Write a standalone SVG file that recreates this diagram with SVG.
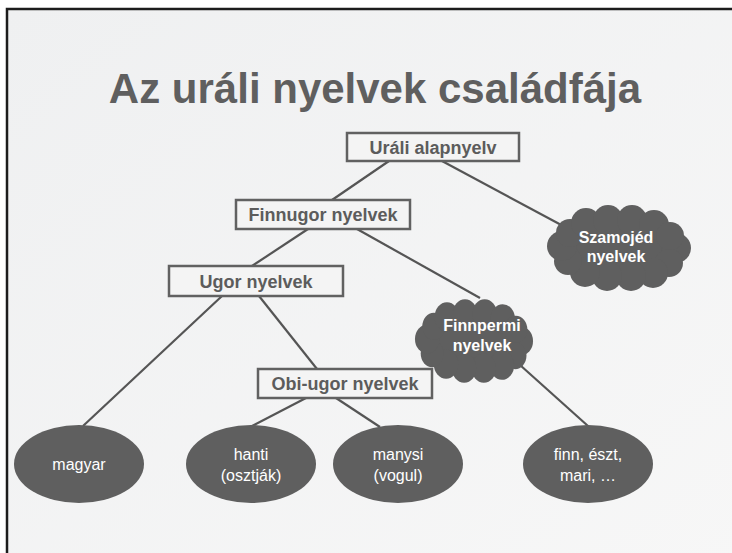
<svg xmlns="http://www.w3.org/2000/svg" xmlns:xlink="http://www.w3.org/1999/xlink" width="732" height="553" viewBox="0 0 732 553">
<style>
.box{fill:#f4f4f4;stroke:#616161;stroke-width:2.5}
.boxt{font-family:"Liberation Sans",Arial,sans-serif;font-weight:bold;font-size:18px;fill:#5c5c5c;text-anchor:middle}
.ell{fill:#5f5f5f}
.ellt{font-family:"Liberation Sans",Arial,sans-serif;font-size:16px;fill:#ffffff;text-anchor:middle}
.cldt{font-family:"Liberation Sans",Arial,sans-serif;font-weight:bold;font-size:16px;fill:#ffffff;text-anchor:middle}
.conn line{stroke:#555555;stroke-width:2.2}
</style>
<defs>
<linearGradient id="bg" x1="0" y1="0" x2="1" y2="1">
<stop offset="0" stop-color="#eff0f1"/>
<stop offset="1" stop-color="#f7f7f7"/>
</linearGradient>
<g id="cloud" fill="#5f5f5f">
<ellipse cx="0" cy="0" rx="58" ry="31"/>
<circle cx="57" cy="0" r="15"/>
<circle cx="50" cy="15" r="14"/>
<circle cx="34" cy="25" r="15"/>
<circle cx="12" cy="28" r="15"/>
<circle cx="-12" cy="28" r="15"/>
<circle cx="-34" cy="24" r="15"/>
<circle cx="-51" cy="13" r="14"/>
<circle cx="-57" cy="-2" r="15"/>
<circle cx="-49" cy="-15" r="14"/>
<circle cx="-33" cy="-25" r="15"/>
<circle cx="-11" cy="-28" r="15"/>
<circle cx="13" cy="-28" r="15"/>
<circle cx="35" cy="-23" r="15"/>
<circle cx="51" cy="-12" r="14"/>
</g>
</defs>
<rect x="0" y="0" width="732" height="553" fill="#ffffff"/>
<rect x="7" y="9" width="740" height="560" fill="url(#bg)" stroke="#1c1c1c" stroke-width="2.5"/>
<text x="375" y="103" font-family="'Liberation Sans',Arial,sans-serif" font-weight="bold" font-size="42" fill="#5f5f5f" text-anchor="middle">Az uráli nyelvek családfája</text>
<g class="conn">
<line x1="389" y1="161" x2="332" y2="200"/>
<line x1="442" y1="161" x2="565" y2="227"/>
<line x1="308" y1="229" x2="252" y2="266"/>
<line x1="357" y1="229" x2="480" y2="298"/>
<line x1="222" y1="296" x2="83" y2="426"/>
<line x1="259" y1="296" x2="317" y2="369"/>
<line x1="306" y1="398" x2="252" y2="426"/>
<line x1="336" y1="398" x2="380" y2="427"/>
<line x1="520" y1="365" x2="588" y2="426"/>
</g>
<g id="urali"><rect class="box" x="347" y="133" width="172" height="28"/><text class="boxt" x="433" y="153.5">Uráli alapnyelv</text></g>
<g id="finnugor"><rect class="box" x="236" y="200" width="174" height="29"/><text class="boxt" x="323" y="221">Finnugor nyelvek</text></g>
<g id="ugor"><rect class="box" x="169" y="266" width="174" height="30"/><text class="boxt" x="256" y="287.5">Ugor nyelvek</text></g>
<g id="obiugor"><rect class="box" x="258" y="369" width="174" height="29"/><text class="boxt" x="345" y="390">Obi-ugor nyelvek</text></g>
<g id="szamojed"><use xlink:href="#cloud" transform="translate(619,248)"/><text class="cldt" x="616" y="243">Szamojéd</text><text class="cldt" x="616" y="262">nyelvek</text></g>
<g id="finnpermi"><use xlink:href="#cloud" transform="translate(474,341) scale(0.82,0.97)"/><text class="cldt" x="482" y="331">Finnpermi</text><text class="cldt" x="482" y="351">nyelvek</text></g>
<g id="magyar"><ellipse class="ell" cx="79" cy="464" rx="65" ry="39"/><text class="ellt" x="79" y="470">magyar</text></g>
<g id="hanti"><ellipse class="ell" cx="251" cy="464" rx="65" ry="39"/><text class="ellt" x="251" y="460">hanti</text><text class="ellt" x="251" y="481">(osztják)</text></g>
<g id="manysi"><ellipse class="ell" cx="398" cy="464" rx="65" ry="39"/><text class="ellt" x="398" y="460">manysi</text><text class="ellt" x="398" y="481">(vogul)</text></g>
<g id="finn"><ellipse class="ell" cx="588" cy="464" rx="65" ry="39"/><text class="ellt" x="588" y="460">finn, észt,</text><text class="ellt" x="588" y="481">mari, …</text></g>
</svg>
